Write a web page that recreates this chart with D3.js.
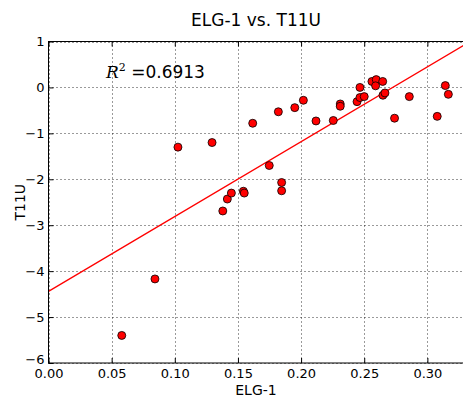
<!DOCTYPE html>
<html><head><meta charset="utf-8">
<script src="https://cdn.jsdelivr.net/npm/d3@7"></script>
<style>body{margin:0;background:#fff}svg{display:block}text{font-family:"DejaVu Sans",sans-serif}</style>
</head><body>
<svg id="c" width="463" height="399"></svg>
<script>
const elg1 = [0.058,0.0843,0.1025,0.1295,0.138,0.1416,0.1448,0.1543,0.155,0.1617,0.1748,0.182,0.1846,0.1846,0.195,0.2018,0.2118,0.2255,0.231,0.231,0.2443,0.2466,0.2466,0.25,0.2561,0.2595,0.259,0.2646,0.2648,0.2664,0.274,0.2857,0.3078,0.3142,0.3166];
const t11u = [-5.40,-4.17,-1.30,-1.20,-2.69,-2.43,-2.30,-2.26,-2.30,-0.78,-1.70,-0.53,-2.07,-2.25,-0.44,-0.28,-0.73,-0.72,-0.36,-0.41,-0.31,0.0,-0.22,-0.20,0.13,0.17,0.035,0.13,-0.17,-0.12,-0.67,-0.20,-0.63,0.04,-0.15];
const fitSlope = [16.3];
const fitIntercept = [-4.44];
const r2Label = ["0.6913"];
const xTicks = [0.00,0.05,0.10,0.15,0.20,0.25,0.30];
const yTicks = [1,0,-1,-2,-3,-4,-5,-6];
const xDomain = [0, 0.3286];
const yDomain = [-6, 1];

const svg = d3.select("#c");
const L = 48.5, R = 463.5, T = 41.5, B = 363;
const x = d3.scaleLinear().domain(xDomain).range([L, R]);
const y = d3.scaleLinear().domain(yDomain).range([B, T]);

svg.append("defs").append("clipPath").attr("id","clip")
  .append("rect").attr("x",L).attr("y",T).attr("width",R-L).attr("height",B-T);

// grid
const g = svg.append("g");
g.selectAll(".gx").data(xTicks).enter().append("line")
  .attr("x1",d=>Math.round(x(d))+0.5).attr("x2",d=>Math.round(x(d))+0.5).attr("y1",T).attr("y2",B)
  .attr("stroke","#000").attr("stroke-width",0.8).attr("stroke-dasharray","1,3");
g.selectAll(".gy").data(yTicks).enter().append("line")
  .attr("y1",d=>Math.round(y(d))+0.5).attr("y2",d=>Math.round(y(d))+0.5).attr("x1",L).attr("x2",R)
  .attr("stroke","#000").attr("stroke-width",0.8).attr("stroke-dasharray","1,3");

// fit line
const plot = svg.append("g").attr("clip-path","url(#clip)");
plot.append("line")
  .attr("x1",x(xDomain[0])).attr("y1",y(fitIntercept[0]+fitSlope[0]*xDomain[0]))
  .attr("x2",x(xDomain[1])).attr("y2",y(fitIntercept[0]+fitSlope[0]*xDomain[1]))
  .attr("stroke","#ff0000").attr("stroke-width",1.3);

// points
const pts = elg1.map((v,i)=>({x:v,y:t11u[i]}));
svg.append("g").selectAll("circle").data(pts).enter().append("circle")
  .attr("cx",d=>x(d.x)).attr("cy",d=>y(d.y)).attr("r",4)
  .attr("fill","#ff0000").attr("stroke","#000").attr("stroke-width",0.8);

// axes
const fmtY = d => (d<0?"\u2212":"") + Math.abs(d);
const xAx = d3.axisBottom(x).tickValues(xTicks).tickFormat(d3.format(".2f")).tickSizeInner(-5).tickSizeOuter(0).tickPadding(6);
const yAx = d3.axisLeft(y).tickValues(yTicks).tickFormat(fmtY).tickSizeInner(-5).tickSizeOuter(0).tickPadding(4);
const xa = svg.append("g").attr("transform",`translate(0,${B})`).call(xAx);
const ya = svg.append("g").attr("transform",`translate(${L},0)`).call(yAx);
const xt = svg.append("g").attr("transform",`translate(0,${T})`).call(d3.axisTop(x).tickValues(xTicks).tickFormat("").tickSizeInner(-5).tickSizeOuter(0));
[xa,ya,xt].forEach(a=>{
  a.select(".domain").remove();
  a.selectAll("line").attr("stroke","#000").attr("stroke-width",1);
  a.selectAll("text").attr("fill","#000").style("font-size","13px").style("font-family","DejaVu Sans");
});
// nudge the lowest y label up slightly so it does not collide with the first x label
ya.selectAll(".tick").filter(d=>d===yDomain[0]).select("text").attr("dy","0.0em");
// spines
svg.append("rect").attr("x",L).attr("y",T).attr("width",R-L).attr("height",B-T)
  .attr("fill","none").attr("stroke","#000").attr("stroke-width",1);

// R^2 annotation
const ann = svg.append("text").attr("x",x(0.0455)).attr("y",y(0.2)).style("font-size","17px");
ann.append("tspan").text("R").style("font-family","DejaVu Serif").style("font-style","italic");
ann.append("tspan").text("2").attr("dy",-7).style("font-size","11px").style("font-family","DejaVu Serif");
ann.append("tspan").text(" =" + r2Label[0]).attr("dy",7);

// title and labels
svg.append("text").attr("x",(L+R)/2).attr("y",26).attr("text-anchor","middle").style("font-size","17px").text("ELG-1 vs. T11U");
svg.append("text").attr("x",(L+R)/2).attr("y",395).attr("text-anchor","middle").style("font-size","14px").text("ELG-1");
svg.append("text").attr("transform",`translate(25,${(T+B)/2}) rotate(-90)`).attr("text-anchor","middle").style("font-size","14px").text("T11U");
</script>
</body></html>
